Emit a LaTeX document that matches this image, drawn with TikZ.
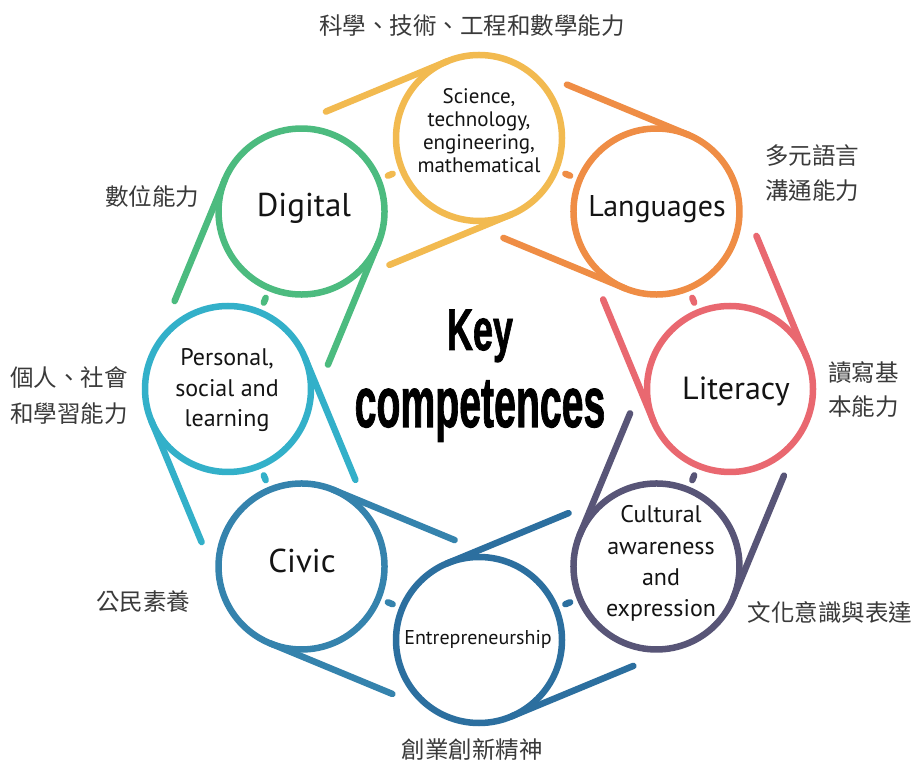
\documentclass[tikz,border=0pt]{standalone}
\usepackage{fontspec}
\setmainfont{PT Sans}
\newfontfamily\cjkfont{Noto Sans CJK TC}
\newfontfamily\keyfont{Liberation Sans}[FakeBold=1.6]
\usetikzlibrary{calc}
\definecolor{cSci}{HTML}{F2BA50}
\definecolor{cLan}{HTML}{EF8D45}
\definecolor{cLit}{HTML}{E96870}
\definecolor{cCul}{HTML}{585577}
\definecolor{cEnt}{HTML}{2C6F9F}
\definecolor{cCiv}{HTML}{3583AD}
\definecolor{cPer}{HTML}{33B0C9}
\definecolor{cDig}{HTML}{4CBB7F}
\definecolor{cjkgray}{HTML}{3A3A3A}
\tikzset{
  ring/.style={circle, minimum size=166pt, inner sep=0pt, outer sep=0pt, line width=6.5pt},
  tline/.style={line width=6.5pt, line cap=round},
  seg/.style={line width=6.5pt, line cap=round, shorten >=10.5pt, shorten <=10.5pt},
  lab/.style={inner sep=0pt, text=black!92},
  cjk/.style={inner sep=0pt, text=cjkgray, font=\cjkfont\fontsize{23.5}{35}\selectfont},
}
\begin{document}
\begin{tikzpicture}[x=1pt,y=1pt]
\fill[white] (0,0) rectangle (915,763);
\useasboundingbox (0,0) rectangle (915,763);
\coordinate (hub) at (479,374);
\foreach \n/\a/\c in {sci/90/cSci, lan/45/cLan, lit/0/cLit, cul/-45/cCul, ent/-90/cEnt, civ/-135/cCiv, per/180/cPer, dig/135/cDig}
  \node[ring, draw=\c] (\n) at ($(hub)+(\a:251)$) {};
\foreach \n/\a/\c/\m in {sci/90/cSci/dig, lan/45/cLan/sci, lit/0/cLit/lan, cul/-45/cCul/lit, ent/-90/cEnt/cul, civ/-135/cCiv/ent, per/180/cPer/civ, dig/135/cDig/per} {
  \pgfmathsetmacro\ta{\a+22.5}
  \pgfmathsetmacro\tb{\a-157.5}
  \pgfmathsetmacro\td{\a+112.5}
  \draw[tline, draw=\c] (\n.\ta) -- ++(\td:132);
  \draw[tline, draw=\c] (\n.\tb) -- ++(\td:132);
  \draw[seg, draw=\c] (\n) -- (\m);
}
% circle labels
\node[lab, align=center, font=\fontsize{21}{22.7}\selectfont] (tsci) at (479,632.3) {Science,\\technology,\\engineering,\\mathematical};
\node[lab, anchor=base, font=\fontsize{33}{36}\selectfont] (tdig) at (304,546) {Digital};
\node[lab, anchor=base, font=\fontsize{30}{36}\selectfont] (tlan) at (657,546) {Languages};
\node[lab, anchor=base, font=\fontsize{32}{36}\selectfont] (tlit) at (736,363) {Literacy};
\node[lab, align=center, font=\fontsize{24}{30.5}\selectfont] (tper) at (227,372.8) {Personal,\\social and\\learning};
\node[lab, anchor=base, font=\fontsize{33}{36}\selectfont] (tciv) at (302,190) {Civic};
\node[lab, anchor=base, font=\fontsize{20}{24}\selectfont] (tent) at (478,118) {Entrepreneurship};
\node[lab, align=center, font=\fontsize{24}{31.3}\selectfont] (tcul) at (661,199.3) {Cultural\\awareness\\and\\expression};
% title
\node[anchor=base, inner sep=0pt] (key) at (480,413) {\keyfont\bfseries\fontsize{58.7}{60}\selectfont\scalebox{0.613}[1]{Key}};
\node[anchor=base, inner sep=0pt] (comp) at (480,336) {\keyfont\bfseries\fontsize{71.3}{72}\selectfont\scalebox{0.55}[1]{competences}};
% chinese labels
\node[cjk] (zsci) at (472,737) {科學、技術、工程和數學能力};
\node[cjk, anchor=west, align=left] (zlan) at (765,589.5) {多元語言\\溝通能力};
\node[cjk, anchor=west, align=left, font=\cjkfont\fontsize{23.5}{34}\selectfont] (zlit) at (828,373) {讀寫基\\本能力};
\node[cjk] (zcul) at (830,151) {文化意識與表達};
\node[cjk] (zent) at (472,13) {創業創新精神};
\node[cjk] (zciv) at (143,161) {公民素養};
\node[cjk, anchor=west, align=left, font=\cjkfont\fontsize{23.5}{36}\selectfont] (zper) at (10,367.5) {個人、社會\\和學習能力};
\node[cjk] (zdig) at (152,566) {數位能力};
\end{tikzpicture}
\end{document}
